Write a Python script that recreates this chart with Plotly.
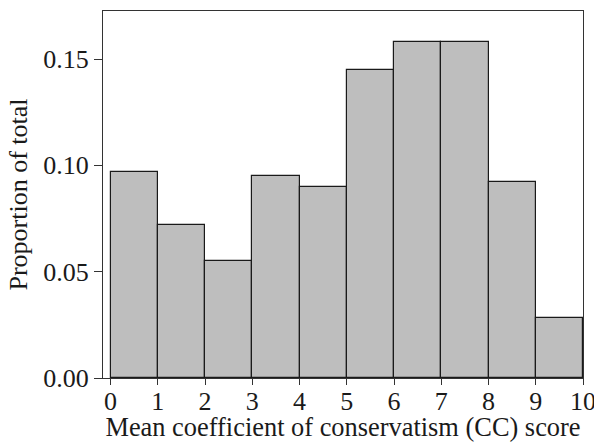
import plotly.graph_objects as go

bin_left = [0, 1, 2, 3, 4, 5, 6, 7, 8, 9]
proportion = [0.097, 0.072, 0.055, 0.095, 0.090, 0.145, 0.158, 0.158, 0.092, 0.028]
x_ticks = [0, 1, 2, 3, 4, 5, 6, 7, 8, 9, 10]
y_ticks = [0.00, 0.05, 0.10, 0.15]
y_tick_text = ["0.00", "0.05", "0.10", "0.15"]

fig = go.Figure(go.Bar(
    x=bin_left, y=proportion, width=1, offset=0,
    marker=dict(color="#bebebe", line=dict(color="#1a1a1a", width=1.2)),
))

font = "Liberation Serif"
fig.update_layout(
    width=594, height=442,
    margin=dict(l=103, r=11, t=11, b=64),
    paper_bgcolor="white", plot_bgcolor="white",
    font=dict(family=font, size=26, color="#1a1a1a"),
    showlegend=False, bargap=0,
)
fig.update_xaxes(
    range=[-0.16, 10.0], tickvals=x_ticks, ticks="outside", ticklen=6,
    tickcolor="#333", showline=True, linecolor="#333", linewidth=1.2,
    mirror=True, showgrid=False, zeroline=False, automargin=False,
    ticklabelstandoff=-6, ticklabeloverflow="allow",
    tickfont=dict(size=26), title=dict(text="Mean coefficient of conservatism (CC) score", standoff=2, font=dict(size=26.4)),
)
fig.update_yaxes(
    range=[0, 0.1726], tickvals=y_ticks, ticktext=y_tick_text, ticks="outside", ticklen=8,
    tickcolor="#333", showline=True, linecolor="#333", linewidth=1.2,
    mirror=True, showgrid=False, zeroline=False, automargin=False,
    ticklabeloverflow="allow",
    tickfont=dict(size=26), title=dict(text="Proportion of total", standoff=8, font=dict(size=26)),
)
fig.write_html("out.html", config={"displayModeBar": False},
               post_script="document.body.style.margin='0px';document.documentElement.style.margin='0px';")
